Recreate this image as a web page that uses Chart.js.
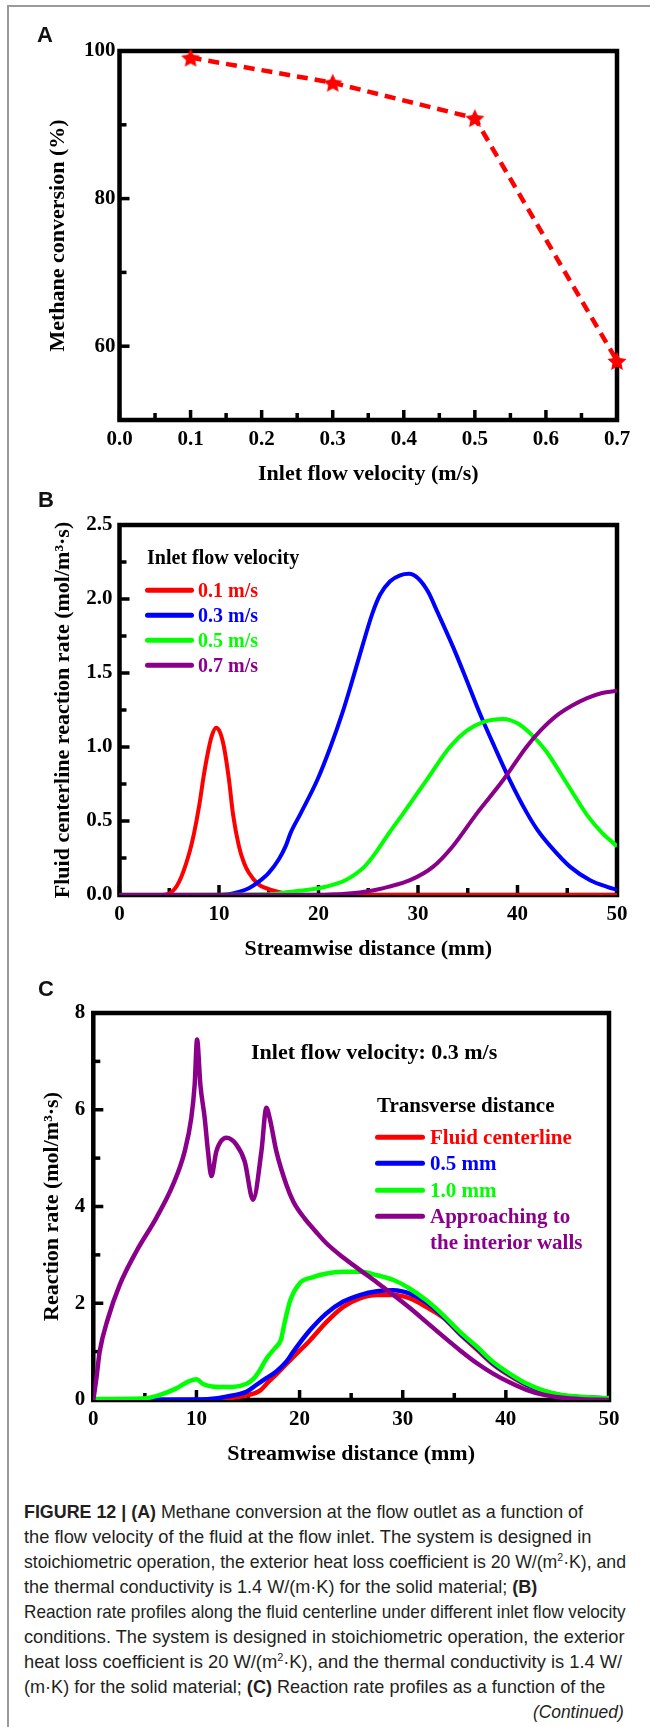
<!DOCTYPE html>
<html>
<head>
<meta charset="utf-8">
<script src="https://cdn.jsdelivr.net/npm/chart.js@4.4.1/dist/chart.umd.min.js"></script>
<style>
  body { margin: 0; background: #fff; }
  #page { position: relative; width: 650px; height: 1727px; overflow: hidden; background: #fff; }
  #edge { position: absolute; left: 7px; top: 5px; right: -4px; bottom: -4px; border-left: 2px solid #9a9a9a; border-top: 2px solid #9a9a9a; }
  canvas { position: absolute; left: 0; }
  .txt { position: absolute; white-space: nowrap; line-height: 1; transform: translateY(-50%); }
  .serif { font-family: "Liberation Serif", "Times New Roman", serif; font-weight: bold; }
  .letter { font-family: "Liberation Sans", Arial, sans-serif; font-weight: bold; font-size: 22px; color: #111; }
  .key { position: absolute; height: 4.5px; border-radius: 2.5px; transform: translateY(-50%); }
  .cap { position: absolute; left: 24px; font-family: "Liberation Sans", Arial, sans-serif; font-size: 18.5px;
         color: #231f20; white-space: nowrap; line-height: 1; transform-origin: 0 50%; display: inline-block; }
</style>
</head>
<body>
<div id="page">
  <div id="edge"></div>
  <canvas id="chartA" width="650" height="495" style="top:0"></canvas>
  <canvas id="chartB" width="650" height="475" style="top:495px"></canvas>
  <canvas id="chartC" width="650" height="500" style="top:970px"></canvas>
</div>
<script>
// ---- panel A: methane conversion vs inlet velocity
const velocityA = [0.1, 0.3, 0.5, 0.7];
const conversionA = [99.1, 95.7, 90.9, 58.0];
const aXTicks = [0, 0.1, 0.2, 0.3, 0.4, 0.5, 0.6, 0.7];
const aXMinor = [0.05, 0.15, 0.25, 0.35, 0.45, 0.55, 0.65];
const aYTicks = [60, 80, 100];
const aYMinor = [70, 90];

// ---- panel B: centerline reaction rate for each inlet velocity
const bLabels = ['0.1 m/s', '0.3 m/s', '0.5 m/s', '0.7 m/s'];
const bColors = ['#ff0000', '#0000ff', '#00ff00', '#8b008b'];
const v01Dist = [0, 4, 5, 6, 7, 7.5, 8, 8.5, 9, 9.3, 9.7, 10.1, 10.5, 11, 11.4, 12, 12.5, 13, 14, 15, 16, 17, 18, 50];
const v01Rate = [0, 0, 0.01, 0.09, 0.28, 0.42, 0.6, 0.82, 1.0, 1.08, 1.13, 1.1, 1.0, 0.78, 0.55, 0.33, 0.22, 0.15, 0.07, 0.04, 0.02, 0.005, 0, 0];
const v03Dist = [0, 10, 11, 12, 13, 14, 15, 16, 16.7, 17.2, 18.2, 19.9, 21.2, 22.4, 23.4, 24.4, 25.4, 26.2, 27.2, 28.2, 29.1, 30, 31, 31.9, 33.5, 34.9, 36.2, 37.7, 39.2, 40.9, 42, 43.3, 45.3, 47.3, 49, 50];
const v03Rate = [0, 0, 0.005, 0.02, 0.045, 0.09, 0.15, 0.24, 0.33, 0.42, 0.55, 0.78, 1.0, 1.23, 1.45, 1.68, 1.9, 2.03, 2.12, 2.16, 2.17, 2.14, 2.05, 1.92, 1.68, 1.45, 1.23, 1.0, 0.78, 0.56, 0.44, 0.33, 0.19, 0.1, 0.055, 0.035];
const v05Dist = [0, 15, 17, 19, 20.7, 22.7, 24.6, 25.9, 27, 28.5, 30.9, 33.2, 34.9, 36.6, 38.6, 40, 41.3, 42.9, 44.9, 47, 48.5, 50];
const v05Rate = [0, 0.005, 0.02, 0.035, 0.056, 0.1, 0.19, 0.3, 0.41, 0.55, 0.78, 1.0, 1.11, 1.17, 1.19, 1.16, 1.09, 0.97, 0.76, 0.54, 0.42, 0.33];
const v07Dist = [0, 20, 23, 25, 27, 29.2, 31.5, 33.5, 35.9, 38.6, 40.9, 42.3, 43.9, 45.5, 47, 48.5, 50];
const v07Rate = [0, 0, 0.01, 0.025, 0.055, 0.1, 0.19, 0.33, 0.55, 0.78, 1.0, 1.11, 1.21, 1.28, 1.33, 1.365, 1.38];
const bXTicks = [0, 10, 20, 30, 40, 50];
const bXMinor = [5, 15, 25, 35, 45];
const bYTicks = [0, 0.5, 1.0, 1.5, 2.0, 2.5];
const bYMinor = [0.25, 0.75, 1.25, 1.75, 2.25];

// ---- panel C: reaction rate at several transverse distances (0.3 m/s)
const cLabels = ['Fluid centerline', '0.5 mm', '1.0 mm', 'Approaching to', 'the interior walls'];
const cColors = ['#ff0000', '#0000ff', '#00ff00', '#8b008b'];
const cCenterDist = [0, 11, 12.5, 14, 15, 16.2, 17, 17.8, 19.4, 21, 22.6, 24.2, 25.85, 27.5, 29.1, 30.7, 32.3, 33.95, 35.55, 37.2, 38.8, 40.4, 42, 43.6, 45.3, 46.9, 48.5, 50];
const cCenterRate = [0, 0, 0.02, 0.06, 0.1, 0.2, 0.38, 0.54, 0.89, 1.23, 1.61, 1.92, 2.1, 2.17, 2.17, 2.1, 1.92, 1.7, 1.36, 1.04, 0.73, 0.5, 0.31, 0.18, 0.1, 0.06, 0.04, 0.03];
const c05Dist = [0, 10, 11.3, 12.9, 14.84, 15.8, 16.78, 17.75, 18.72, 19.4, 21, 22.6, 24.2, 25.85, 27.5, 29.1, 30.7, 32.3, 33.95, 35.55, 37.2, 38.8, 40.4, 42, 43.6, 45.3, 46.9, 48.5, 50];
const c05Rate = [0, 0.01, 0.02, 0.07, 0.17, 0.31, 0.45, 0.59, 0.79, 1.0, 1.44, 1.79, 2.03, 2.17, 2.25, 2.27, 2.2, 2.02, 1.72, 1.38, 1.07, 0.75, 0.52, 0.32, 0.19, 0.1, 0.06, 0.045, 0.035];
const c10Dist = [0, 4.8, 6.4, 8.05, 9.2, 10, 10.64, 11.5, 12.3, 13.5, 14.8, 15.5, 16.1, 16.8, 17.6, 18.2, 18.5, 19.1, 20, 21.3, 22.5, 24.2, 25.9, 27.5, 29.1, 30.7, 32.3, 33.95, 35.55, 37.2, 38.8, 40.4, 42, 43.6, 45.3, 46.9, 48.5, 50];
const c10Rate = [0.02, 0.03, 0.1, 0.24, 0.38, 0.43, 0.33, 0.28, 0.27, 0.27, 0.33, 0.43, 0.6, 0.86, 1.07, 1.25, 1.55, 2.06, 2.41, 2.54, 2.61, 2.65, 2.65, 2.58, 2.48, 2.3, 2.06, 1.75, 1.41, 1.1, 0.78, 0.54, 0.34, 0.2, 0.11, 0.07, 0.05, 0.04];
const cWallDist = [0, 0.3, 0.62, 1.43, 2.56, 4.17, 6.1, 7.73, 8.86, 9.5, 9.83, 10.06, 10.38, 10.8, 11.12, 11.45, 11.93, 12.9, 13.87, 14.68, 15.49, 16.3, 16.78, 17.1, 17.75, 18.72, 19.4, 20.5, 21.5, 22.6, 24.2, 25.9, 27.5, 29.1, 30.7, 32.3, 33.95, 35.6, 37.2, 38.8, 40.4, 42, 43.6, 45.3, 47.3, 50];
const cWallRate = [0, 0.45, 1.0, 1.69, 2.38, 3.07, 3.76, 4.45, 5.14, 5.83, 6.52, 7.45, 6.52, 5.83, 5.14, 4.63, 5.14, 5.42, 5.28, 4.93, 4.14, 5.14, 6.04, 5.83, 5.14, 4.45, 4.1, 3.75, 3.5, 3.24, 2.95, 2.68, 2.43, 2.17, 1.9, 1.61, 1.31, 1.02, 0.76, 0.54, 0.36, 0.21, 0.11, 0.05, 0.015, 0];
const cXTicks = [0, 10, 20, 30, 40, 50];
const cXMinor = [5, 15, 25, 35, 45];
const cYTicks = [0, 2, 4, 6, 8];
const cYMinor = [1, 3, 5, 7];

const serif = '"Liberation Serif", "Times New Roman", serif';
const tickFont = { family: serif, size: 21, weight: 'bold' };
const titleFont = { family: serif, size: 22, weight: 'bold' };

const zip = (xs, ys) => xs.map((x, i) => ({ x, y: ys[i] }));

// frame + inward tick marks, drawn under the data
const frameTicks = {
  id: 'frameTicks',
  beforeDatasetsDraw(chart, args, opts) {
    const { ctx, chartArea: a } = chart;
    const xs = chart.scales.x, ys = chart.scales.y;
    ctx.save();
    ctx.strokeStyle = '#000';
    ctx.lineWidth = 3.5;
    const mark = (list, len, onX) => list.forEach(v => {
      ctx.beginPath();
      if (onX) {
        const p = xs.getPixelForValue(v);
        ctx.moveTo(p, a.bottom); ctx.lineTo(p, a.bottom - len);
      } else {
        const p = ys.getPixelForValue(v);
        ctx.moveTo(a.left, p); ctx.lineTo(a.left + len, p);
      }
      ctx.stroke();
    });
    mark(opts.xMajor, 10, true);
    mark(opts.xMinor, 7, true);
    mark(opts.yMajor, 10, false);
    mark(opts.yMinor, 7, false);
    ctx.lineWidth = 4.5;
    ctx.strokeRect(a.left, a.top, a.right - a.left, a.bottom - a.top);
    ctx.restore();
  }
};

function makeStar(r, color) {
  const c = document.createElement('canvas');
  c.width = c.height = Math.ceil(r * 2 + 2);
  const g = c.getContext('2d');
  const m = c.width / 2;
  g.beginPath();
  for (let i = 0; i < 10; i++) {
    const rad = i % 2 ? r * 0.48 : r;
    const ang = -Math.PI / 2 + i * Math.PI / 5;
    g.lineTo(m + rad * Math.cos(ang), m + 1 + rad * Math.sin(ang));
  }
  g.closePath();
  g.fillStyle = color;
  g.fill();
  return c;
}

function makeScales(o) {
  return {
    x: {
      type: 'linear', min: o.xMin, max: o.xMax,
      grid: { display: false, drawTicks: false }, border: { display: false },
      afterBuildTicks: s => { s.ticks = o.xTicks.map(v => ({ value: v })); },
      afterFit: s => { s.height = o.xHeight; },
      ticks: { color: '#000', font: tickFont, padding: 7, maxRotation: 0, autoSkip: false, callback: o.xFmt },
      title: { display: true, text: o.xTitle, color: '#000', font: titleFont, padding: { top: 0, bottom: o.xTitlePad } }
    },
    y: {
      type: 'linear', min: o.yMin, max: o.yMax,
      grid: { display: false, drawTicks: false }, border: { display: false },
      afterBuildTicks: s => { s.ticks = o.yTicks.map(v => ({ value: v })); },
      afterFit: s => { s.width = o.yWidth; },
      ticks: { color: '#000', font: tickFont, padding: o.yTickPad, autoSkip: false, callback: o.yFmt },
      title: { display: true, text: o.yTitle, color: '#000', font: titleFont, padding: { top: o.yTitlePad, bottom: 0 } }
    }
  };
}

function baseOptions(pad, scales, marks) {
  return {
    responsive: false,
    animation: false,
    events: [],
    layout: { padding: pad },
    scales,
    plugins: { legend: { display: false }, tooltip: { enabled: false }, frameTicks: marks }
  };
}

function curve(data, color, order, width) {
  return {
    data, borderColor: color, backgroundColor: color, borderWidth: width,
    pointRadius: 0, cubicInterpolationMode: 'monotone', fill: false, order
  };
}

// ---- A
new Chart(document.getElementById('chartA'), {
  type: 'line',
  data: {
    datasets: [{
      data: zip(velocityA, conversionA),
      borderColor: '#ff0000', borderWidth: 4.5, borderDash: [11, 7],
      pointStyle: makeStar(10, '#ff0000'), pointRadius: 10, clip: false, tension: 0
    }]
  },
  options: baseOptions({ left: 0, top: 51, right: 33, bottom: 0 },
    makeScales({
      xMin: 0, xMax: 0.7, xTicks: aXTicks, xHeight: 75, xFmt: v => v.toFixed(1),
      xTitle: 'Inlet flow velocity (m/s)', xTitlePad: 7,
      yMin: 50, yMax: 100, yTicks: aYTicks, yWidth: 119.5, yTickPad: 4, yFmt: v => String(v),
      yTitle: 'Methane conversion (%)', yTitlePad: 45
    }),
    { xMajor: aXTicks, xMinor: aXMinor, yMajor: aYTicks, yMinor: aYMinor }),
  plugins: [frameTicks]
});

// ---- B
const bSeries = [zip(v01Dist, v01Rate), zip(v03Dist, v03Rate), zip(v05Dist, v05Rate), zip(v07Dist, v07Rate)];
new Chart(document.getElementById('chartB'), {
  type: 'line',
  data: { datasets: bSeries.map((d, i) => curve(d, bColors[i], 4 - i, 4)) },
  options: baseOptions({ left: 0, top: 30, right: 33, bottom: 0 },
    makeScales({
      xMin: 0, xMax: 50, xTicks: bXTicks, xHeight: 75, xFmt: v => String(v),
      xTitle: 'Streamwise distance (mm)', xTitlePad: 7,
      yMin: 0, yMax: 2.5, yTicks: bYTicks, yWidth: 119.5, yTickPad: 7, yFmt: v => v.toFixed(1),
      yTitle: 'Fluid centerline reaction rate (mol/m³·s)', yTitlePad: 50
    }),
    { xMajor: bXTicks, xMinor: bXMinor, yMajor: bYTicks, yMinor: bYMinor }),
  plugins: [frameTicks]
});

// ---- C
const cSeries = [zip(cCenterDist, cCenterRate), zip(c05Dist, c05Rate), zip(c10Dist, c10Rate), zip(cWallDist, cWallRate)];
new Chart(document.getElementById('chartC'), {
  type: 'line',
  data: { datasets: cSeries.map((d, i) => curve(d, cColors[i], 4 - i, 4.5)) },
  options: baseOptions({ left: 0, top: 43, right: 41, bottom: 0 },
    makeScales({
      xMin: 0, xMax: 50, xTicks: cXTicks, xHeight: 70, xFmt: v => String(v),
      xTitle: 'Streamwise distance (mm)', xTitlePad: 2,
      yMin: 0, yMax: 8, yTicks: cYTicks, yWidth: 93.3, yTickPad: 8, yFmt: v => String(v),
      yTitle: 'Reaction rate (mol/m³·s)', yTitlePad: 39
    }),
    { xMajor: cXTicks, xMinor: cXMinor, yMajor: cYTicks, yMinor: cYMinor }),
  plugins: [frameTicks]
});

// ---- overlay text: panel letters, legends, notes, caption
const page = document.getElementById('page');
function addText(html, x, cy, cls, size, color) {
  const el = document.createElement('div');
  el.className = 'txt ' + cls;
  el.style.left = x + 'px';
  el.style.top = cy + 'px';
  if (size) el.style.fontSize = size + 'px';
  if (color) el.style.color = color;
  el.innerHTML = html;
  page.appendChild(el);
  return el;
}
function addKey(x0, x1, cy, color) {
  const el = document.createElement('div');
  el.className = 'key';
  el.style.left = x0 + 'px';
  el.style.width = (x1 - x0) + 'px';
  el.style.top = cy + 'px';
  el.style.background = color;
  page.appendChild(el);
}

addText('A', 37, 35, 'letter');
addText('B', 38, 500, 'letter');
addText('C', 38, 989, 'letter');

addText('Inlet flow velocity', 147, 557, 'serif', 20, '#000');
const bKeyY = [590, 615, 640, 665];
bLabels.forEach((lab, i) => {
  addKey(145, 194, bKeyY[i], bColors[i]);
  addText(lab, 198, bKeyY[i], 'serif', 20, bColors[i]);
});

addText('Inlet flow velocity: 0.3 m/s', 251, 1052, 'serif', 22, '#000');
addText('Transverse distance', 377, 1105, 'serif', 21, '#000');
const cKeyY = [1137, 1163, 1190, 1216];
cColors.forEach((col, i) => {
  addKey(375, 425, cKeyY[i], col);
  addText(cLabels[i], 430, cKeyY[i], 'serif', 21, col);
});
addText(cLabels[4], 430, 1242, 'serif', 21, cColors[3]);

const captionLines = [
  ['<b>FIGURE 12 | (A)</b> Methane conversion at the flow outlet as a function of', 559],
  ['the flow velocity of the fluid at the flow inlet. The system is designed in', 567],
  ['stoichiometric operation, the exterior heat loss coefficient is 20 W/(m<sup style="font-size:11px;vertical-align:7px">2</sup>·K), and', 602],
  ['the thermal conductivity is 1.4 W/(m·K) for the solid material; <b>(B)</b>', 513],
  ['Reaction rate profiles along the fluid centerline under different inlet flow velocity', 602],
  ['conditions. The system is designed in stoichiometric operation, the exterior', 600],
  ['heat loss coefficient is 20 W/(m<sup style="font-size:11px;vertical-align:7px">2</sup>·K), and the thermal conductivity is 1.4 W/', 598],
  ['(m·K) for the solid material; <b>(C)</b> Reaction rate profiles as a function of the', 581]
];
captionLines.forEach(([html, w], i) => {
  const el = document.createElement('div');
  el.className = 'cap';
  el.style.top = (1512 + i * 25) + 'px';
  el.innerHTML = html;
  page.appendChild(el);
  const k = w / el.offsetWidth;
  el.style.transform = `translateY(-50%) scaleX(${k})`;
});
const cont = document.createElement('div');
cont.className = 'cap';
cont.style.left = 'auto';
cont.style.right = '26px';
cont.style.top = '1712px';
cont.style.fontStyle = 'italic';
cont.style.transformOrigin = '100% 50%';
cont.innerHTML = '(Continued)';
page.appendChild(cont);
cont.style.transform = `translateY(-50%) scaleX(${91 / cont.offsetWidth})`;
</script>
</body>
</html>
